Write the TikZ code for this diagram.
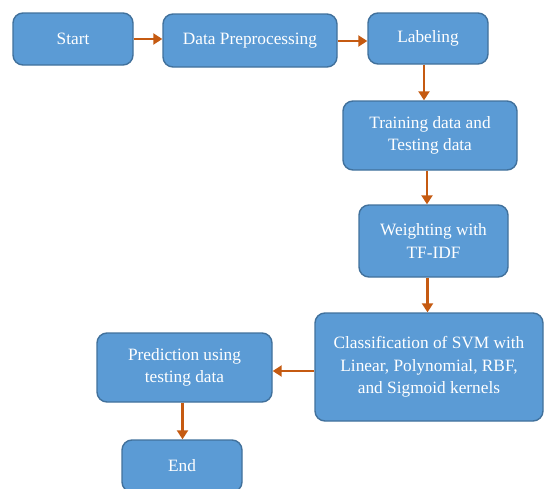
\documentclass[tikz,border=0pt]{standalone}
\usepackage{fontspec}
\setmainfont{Liberation Serif}
\newfontfamily\boxfont{Liberation Serif}
\usetikzlibrary{arrows.meta,calc}
\definecolor{boxfill}{HTML}{5B9BD5}
\definecolor{boxline}{HTML}{41719C}
\definecolor{arrowc}{HTML}{C55A11}
\tikzset{
  procbox/.style={draw=boxline, line width=1.4pt, fill=boxfill, rounded corners=10pt,
    text=white, align=center, inner sep=0pt,
    font=\boxfont\fontsize{17.3}{22.5}\selectfont},
  flow/.style={draw=arrowc, line width=2.6pt, -{Triangle[length=9pt,width=11pt]}}
}
\begin{document}
\begin{tikzpicture}[x=1pt,y=1pt]
\useasboundingbox (0,0) rectangle (544,-488);
\clip (0,0) rectangle (544,-488);
\node[procbox, minimum width=120pt, minimum height=52pt] (start) at (73,-39) {Start};
\node[procbox, minimum width=174pt, minimum height=53pt] (prep) at (250,-40.5) {Data Preprocessing};
\node[procbox, minimum width=120pt, minimum height=51pt] (label) at (428,-38.5) {Labeling};
\node[procbox, minimum width=174pt, minimum height=69pt] (train) at (430,-135.5) {Training data and\\Testing data};
\node[procbox, minimum width=149pt, minimum height=72pt] (weight) at (433.5,-241) {Weighting with\\TF-IDF};
\node[procbox, minimum width=228pt, minimum height=108pt] (classif) at (429,-367) {Classification of SVM with\\Linear, Polynomial, RBF,\\and Sigmoid kernels};
\node[procbox, minimum width=175pt, minimum height=69pt] (pred) at (184.5,-367.5) {Prediction using\\testing data};
\node[procbox, minimum width=120pt, minimum height=52pt] (end) at (182,-466) {End};
\draw[flow] (start.east) -- (start.east -| prep.west);
\draw[flow] ([yshift=-0.5pt]prep.east) -- ([yshift=-0.5pt]prep.east -| label.west);
\draw[flow] ([xshift=-4pt]label.south) -- ([xshift=-4pt]label.south |- train.north);
\draw[flow] ([xshift=-3pt]train.south) -- ([xshift=-3pt]train.south |- weight.north);
\draw[flow] ([xshift=-6pt]weight.south) -- ([xshift=-6pt]weight.south |- classif.north);
\draw[flow] ([yshift=-4pt]classif.west) -- ([yshift=-4pt]classif.west -| pred.east);
\draw[flow] ([xshift=-2pt]pred.south) -- ([xshift=-2pt]pred.south |- end.north);
\end{tikzpicture}
\end{document}
